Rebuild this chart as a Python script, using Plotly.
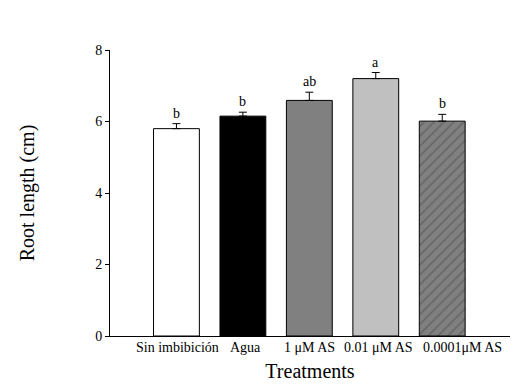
import plotly.graph_objects as go

categories = ["Sin imbibición", "Agua", "1 μM AS", "0.01 μM AS", "0.0001μM AS"]
values = [5.80, 6.15, 6.59, 7.20, 6.01]
errors = [0.14, 0.11, 0.23, 0.17, 0.19]
letters = ["b", "b", "ab", "a", "b"]
colors = ["#ffffff", "#000000", "#808080", "#c0c0c0", "#808080"]
patterns = ["", "", "", "", "/"]
# horizontal nudges of the category labels (px), as in the original figure
label_nudges = [1, 2.5, 0, 2.5, 20]

font_family = "Liberation Serif"

fig = go.Figure()
fig.add_trace(go.Bar(
    x=categories, y=values,
    marker=dict(color=colors, line=dict(color="black", width=1),
                pattern=dict(shape=patterns, fgcolor="black", size=7, solidity=0.2)),
    error_y=dict(type="data", symmetric=False, array=errors, arrayminus=[0]*5,
                 color="black", thickness=1, width=4),
    showlegend=False,
))

for c, v, e, l in zip(categories, values, errors, letters):
    fig.add_annotation(x=c, y=v + e, text=l, showarrow=False, yanchor="bottom",
                       yshift=1, font=dict(family=font_family, size=14, color="#000000"))

for c, dx in zip(categories, label_nudges):
    fig.add_annotation(x=c, y=0, yref="y", text=c, showarrow=False, yanchor="top",
                       xshift=dx, yshift=-2,
                       font=dict(family=font_family, size=14, color="#000000"))

fig.update_layout(
    width=524, height=384,
    margin=dict(l=102, r=22, t=42, b=56),
    plot_bgcolor="white", paper_bgcolor="white",
    bargap=0.31,
    font=dict(family=font_family, color="black", size=14),
    xaxis=dict(range=[-1, 5.02], showline=True, linecolor="black", linewidth=1,
               ticks="", showticklabels=False, automargin=False,
               title=dict(text="Treatments", font=dict(size=20, family=font_family, color="black"), standoff=27)),
    yaxis=dict(range=[0, 8], dtick=2, showline=True, linecolor="black", linewidth=1,
               ticks="outside", ticklen=4, tickcolor="black", showgrid=False, zeroline=False,
               automargin=False,
               tickfont=dict(size=14, family=font_family, color="black"),
               title=dict(text="Root length (cm)", font=dict(size=20, family=font_family, color="black"), standoff=55)),
)

fig.write_html("out.html")
